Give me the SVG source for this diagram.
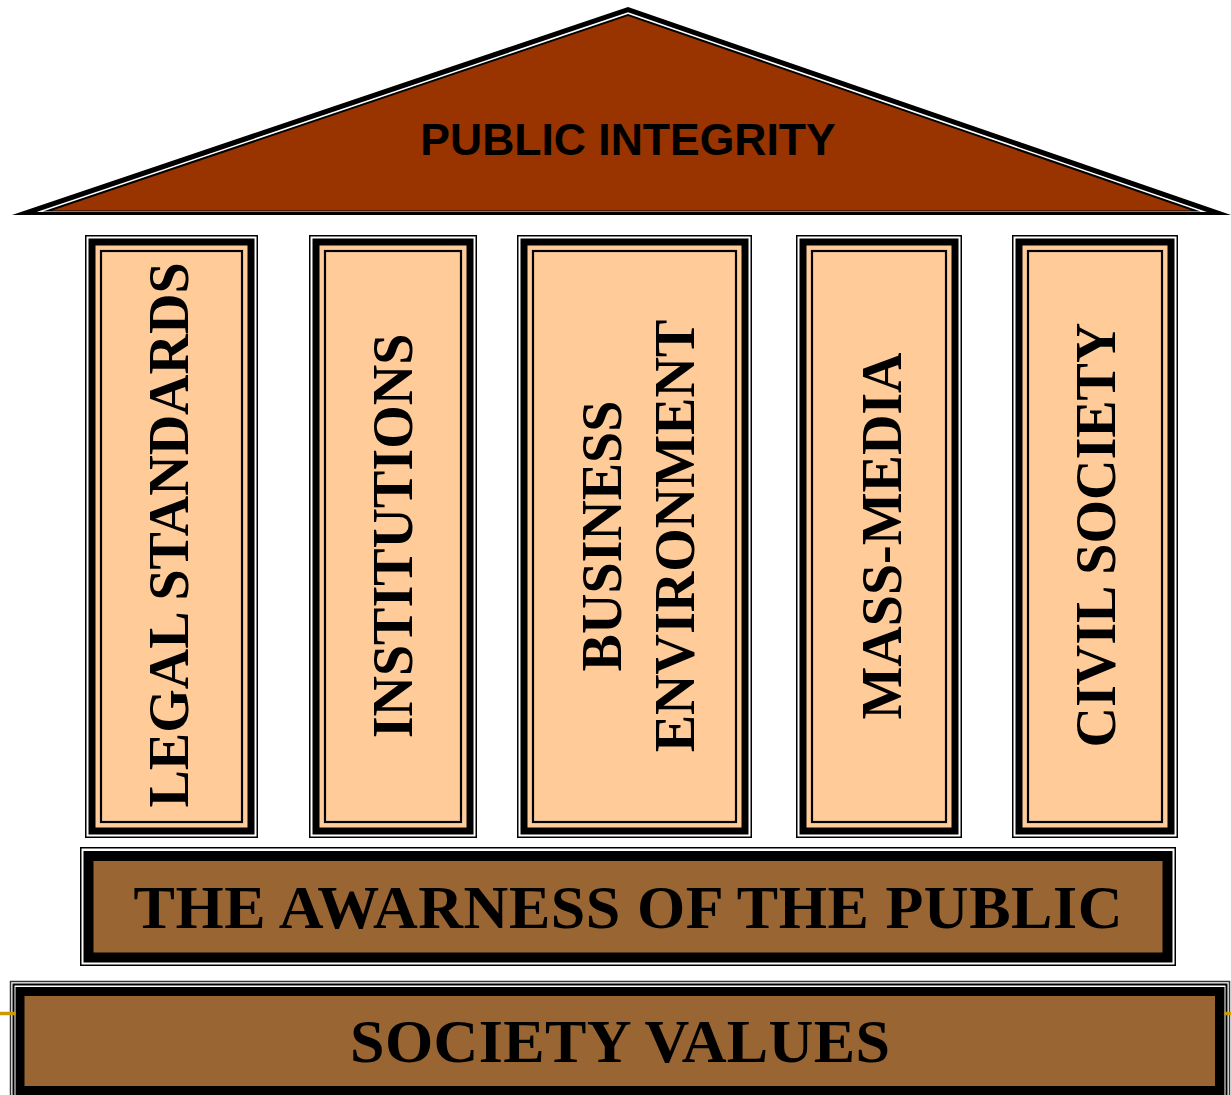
<svg xmlns="http://www.w3.org/2000/svg" width="1231" height="1095" viewBox="0 0 1231 1095">
<style>
.outline{fill:#fff;stroke:#000;stroke-width:1.5}
.thick{fill:#000}
.peach{fill:#FFCC99}
.inner{fill:none;stroke:#000;stroke-width:2.2}
.vtxt{font-family:"Liberation Serif","Times New Roman",serif;font-weight:bold;font-size:56px;fill:#000;text-anchor:middle}
.btxt{font-family:"Liberation Serif","Times New Roman",serif;font-weight:bold;font-size:62px;fill:#000;text-anchor:middle}
.rtxt{font-family:"Liberation Sans",Arial,sans-serif;font-weight:bold;font-size:44.5px;fill:#000;text-anchor:middle}
.brown{fill:#996633}
</style>
<rect width="1231" height="1095" fill="#fff"/>
<g id="roof">
<polygon points="628,7 12,215 1231,215" fill="#000"/>
<polygon points="628,12.3 36.6,212 1206.9,212" fill="#fff"/>
<polygon points="628,13.9 42.8,211.5 1200.8,211.5" fill="#000"/>
<polygon points="628,16 52.1,210.5 1191.7,210.5" fill="#993300"/>
<text class="rtxt" x="628" y="155">PUBLIC INTEGRITY</text>
</g>
<g id="col-legal">
<rect class="outline" x="85.75" y="235.75" width="171.5" height="601.5"/>
<rect class="thick" x="88.5" y="238.5" width="166" height="596"/>
<rect class="peach" x="95.5" y="245.5" width="152" height="582"/>
<rect class="inner" x="101" y="251" width="141" height="571"/>
<text class="vtxt" transform="translate(188,535) rotate(-90)">LEGAL STANDARDS</text>
</g>
<g id="col-institutions">
<rect class="outline" x="309.75" y="235.75" width="166.5" height="601.5"/>
<rect class="thick" x="312.5" y="238.5" width="161" height="596"/>
<rect class="peach" x="319.5" y="245.5" width="147" height="582"/>
<rect class="inner" x="325" y="251" width="136" height="571"/>
<text class="vtxt" transform="translate(412,536) rotate(-90)">INSTITUTIONS</text>
</g>
<g id="col-business">
<rect class="outline" x="517.75" y="235.75" width="233.5" height="601.5"/>
<rect class="thick" x="520.5" y="238.5" width="228" height="596"/>
<rect class="peach" x="527.5" y="245.5" width="214" height="582"/>
<rect class="inner" x="533" y="251" width="203" height="571"/>
<text class="vtxt" transform="translate(621,536) rotate(-90)">BUSINESS</text>
<text class="vtxt" transform="translate(694,536) rotate(-90)">ENVIRONMENT</text>
</g>
<g id="col-massmedia">
<rect class="outline" x="796.75" y="235.75" width="164.5" height="601.5"/>
<rect class="thick" x="799.5" y="238.5" width="159" height="596"/>
<rect class="peach" x="806.5" y="245.5" width="145" height="582"/>
<rect class="inner" x="812" y="251" width="134" height="571"/>
<text class="vtxt" transform="translate(901,536) rotate(-90)">MASS-MEDIA</text>
</g>
<g id="col-civil">
<rect class="outline" x="1012.75" y="235.75" width="164.5" height="601.5"/>
<rect class="thick" x="1015.5" y="238.5" width="159" height="596"/>
<rect class="peach" x="1022.5" y="245.5" width="145" height="582"/>
<rect class="inner" x="1028" y="251" width="134" height="571"/>
<text class="vtxt" transform="translate(1115,535) rotate(-90)">CIVIL SOCIETY</text>
</g>
<g id="awareness">
<rect class="outline" x="80.75" y="847.75" width="1094.5" height="117.5"/>
<rect class="thick" x="83.5" y="851" width="1089" height="111.5"/>
<rect class="brown" x="93.5" y="861" width="1069" height="91.5"/>
<text class="btxt" x="628" y="928" textLength="989" lengthAdjust="spacing">THE AWARNESS OF THE PUBLIC</text>
</g>
<g id="society">
<rect x="10.5" y="981.5" width="1219" height="130" fill="#fff" stroke="#333" stroke-width="1.5"/>
<rect x="13.5" y="984.5" width="1213" height="130" fill="none" stroke="#000" stroke-width="2"/>
<rect class="thick" x="15.5" y="987" width="1209" height="120"/>
<rect class="brown" x="24.5" y="996" width="1190.5" height="90"/>
<line x1="0" y1="1013.5" x2="15.5" y2="1013.5" stroke="#CC9900" stroke-width="3.5"/>
<line x1="1224.5" y1="1013.5" x2="1231" y2="1013.5" stroke="#CC9900" stroke-width="3.5"/>
<text class="btxt" x="620" y="1062" textLength="540" lengthAdjust="spacing">SOCIETY VALUES</text>
</g>
<g id="connectors"/>
</svg>
